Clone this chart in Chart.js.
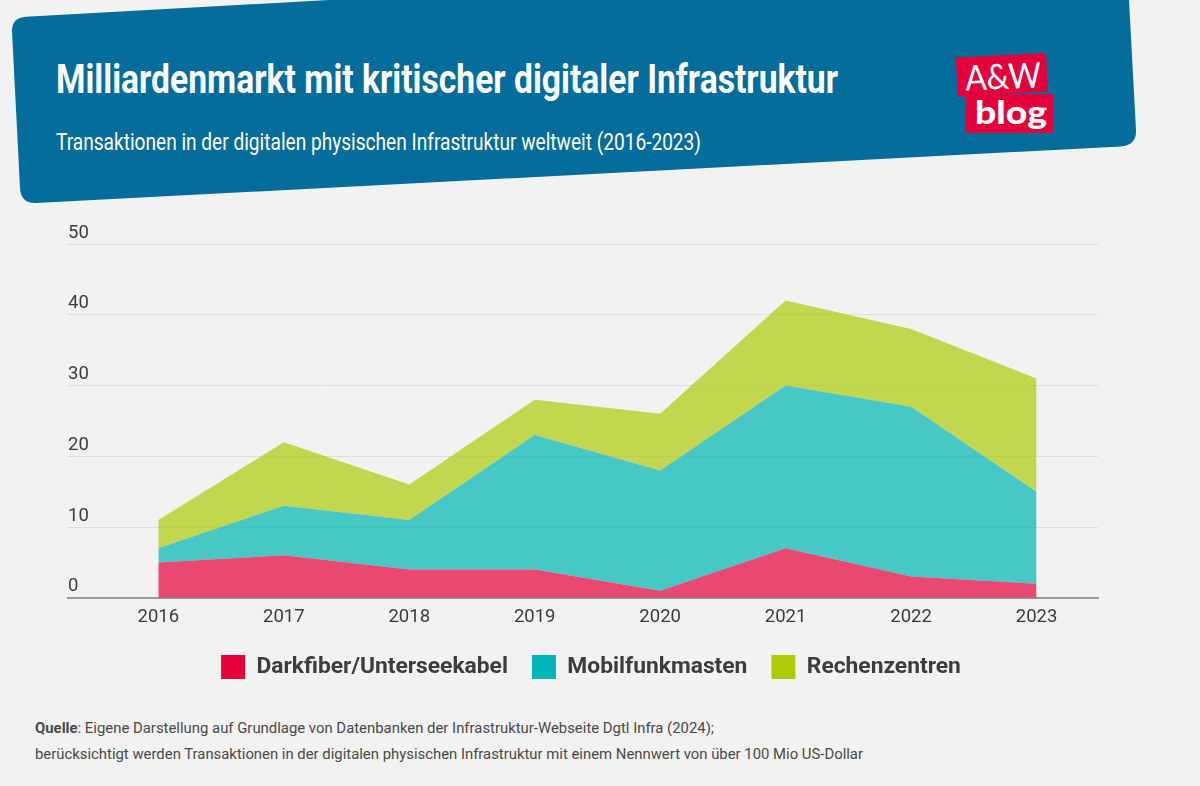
<!DOCTYPE html>
<html lang="de"><head><meta charset="utf-8">
<script src="https://cdn.jsdelivr.net/npm/chart.js@4"></script>
<style>
html,body{margin:0;padding:0;background:#f2f2f2;width:1200px;height:786px;overflow:hidden}
#wrap{position:relative;width:1200px;height:786px}
canvas{position:absolute;left:0;top:0}
svg{position:absolute;left:0;top:0}
.n{font-family:Roboto,sans-serif}
</style></head><body>
<div id="wrap">
<svg width="1200" height="786" viewBox="0 0 1200 786">
<path d="M26 16.700 L1126.600 -44 L1136 130 Q1136.700 145 1121 146.500 L36 203 Q21 203.700 20 188 L12 31 Q12 17.500 26 16.700 Z" fill="#056d9b"/>
<text class="n" x="56" y="93" font-size="40" font-weight="700" fill="#fff" textLength="782" lengthAdjust="spacingAndGlyphs">Milliardenmarkt mit kritischer digitaler Infrastruktur</text>
<text class="n" x="56" y="150" font-size="24" font-weight="400" fill="#fff" textLength="645" lengthAdjust="spacingAndGlyphs">Transaktionen in der digitalen physischen Infrastruktur weltweit (2016-2023)</text>
<polygon points="955.700,57.500 1046,53 1048,91.600 958,96.500" fill="#e4003a"/>
<polygon points="966,94.500 1053,94 1053,133 966,133" fill="#e4003a"/>
<text x="1003" y="89" font-family="Lato,sans-serif" font-size="35" font-weight="400" fill="#fff" text-anchor="middle" textLength="76" lengthAdjust="spacingAndGlyphs" transform="rotate(-2.500 1001 75)">A&amp;W</text>
<text x="1011" y="124" font-family="Lato,sans-serif" font-size="33" font-weight="900" fill="#fff" text-anchor="middle" textLength="72" lengthAdjust="spacingAndGlyphs">blog</text>
<text class="n" x="35" y="733" font-size="15.500" fill="#4a4a4a" textLength="679" lengthAdjust="spacingAndGlyphs"><tspan font-weight="700">Quelle</tspan>: Eigene Darstellung auf Grundlage von Datenbanken der Infrastruktur-Webseite Dgtl Infra (2024);</text>
<text class="n" x="35" y="759" font-size="15.500" fill="#4a4a4a" textLength="828" lengthAdjust="spacingAndGlyphs">berücksichtigt werden Transaktionen in der digitalen physischen Infrastruktur mit einem Nennwert von über 100 Mio US-Dollar</text>
</svg>
<canvas id="c" width="1200" height="786"></canvas>
</div>
<script>
const years = [2016,2017,2018,2019,2020,2021,2022,2023];
const darkfiber = [5,6,4,4,1,7,3,2];
const mobilfunk = [2,7,7,19,17,23,24,13];
const rechenzentren = [4,9,5,5,8,12,11,16];
const yTicks = [0,10,20,30,40,50];
const seriesNames = ["Darkfiber/Unterseekabel","Mobilfunkmasten","Rechenzentren"];
const solid = ["#e4003a","#00b5b5","#afca0b"];
const area = ["rgba(228,0,58,.7)","rgba(0,181,181,.7)","rgba(175,202,11,.7)"];
const font = 'Roboto,sans-serif';
const toPts = a => a.map((v,i)=>({x:years[i],y:v}));
const shiftLegend = {id:'shiftLegend',afterLayout(ch){ch.legend.left+=8;ch.legend.right+=8;}};
new Chart(document.getElementById('c'),{
  type:'line',
  plugins:[shiftLegend],
  data:{datasets:[darkfiber,mobilfunk,rechenzentren].map((a,i)=>({
    label:seriesNames[i],data:toPts(a),backgroundColor:area[i],borderWidth:0,
    pointRadius:0,pointHoverRadius:0,tension:0,fill:i===0?'origin':'-1'
  }))},
  options:{
    responsive:false,animation:false,
    layout:{padding:{left:68,right:102,top:244,bottom:97}},
    plugins:{
      tooltip:{enabled:false},
      legend:{position:'bottom',align:'center',
        labels:{boxWidth:24,boxHeight:24,padding:24,color:'#3c3c3c',font:{family:font,size:22.8,weight:'700'},
          generateLabels:ch=>ch.data.datasets.map((d,i)=>({text:d.label,fillStyle:solid[i],strokeStyle:'#fff',lineWidth:0,fontColor:'#3c3c3c',datasetIndex:i,hidden:false}))}}
    },
    scales:{
      x:{type:'linear',min:2015.28,max:2023.49,
        afterBuildTicks:s=>{s.ticks=years.map(v=>({value:v}))},
        afterFit:s=>{s.height-=5},
        grid:{display:false,drawTicks:false},
        border:{color:'#999',width:2},
        ticks:{autoSkip:false,maxRotation:0,padding:8,color:'#3c3c3c',font:{family:font,size:18.5},callback:v=>String(v)}},
      y:{stacked:true,min:0,max:50,
        afterBuildTicks:s=>{s.ticks=yTicks.map(v=>({value:v}))},
        grid:{color:'#dedede',lineWidth:1,drawTicks:false},
        border:{display:false},
        ticks:{mirror:true,padding:0,labelOffset:-11,color:'#3c3c3c',font:{family:font,size:18.5},callback:v=>String(v)}}
    }
  }
});
</script>
</body></html>
